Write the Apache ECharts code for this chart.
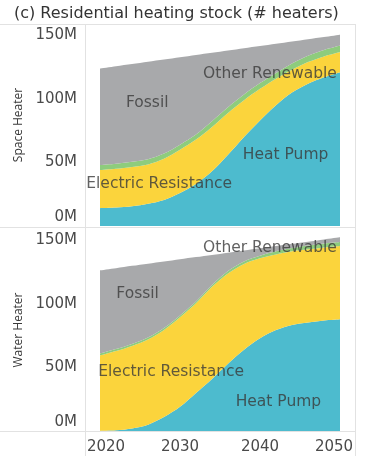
<!DOCTYPE html>
<html>
<head>
<meta charset="utf-8">
<script src="https://cdn.jsdelivr.net/npm/echarts@6/dist/echarts.min.js"></script>
<style>html,body{margin:0;padding:0;background:#fff}#c{width:369px;height:458px}</style>
</head>
<body>
<div id="c"></div>
<script>
const years = ['2020','2022','2024','2026','2028','2030','2032','2034','2036','2038','2040','2042','2044','2046','2048','2050'];
const xTickLabels = ['2020', '2030', '2040', '2050'];
const yTicks = [0, 50, 100, 150];
const panelNames = ['Space Heater', 'Water Heater'];
const seriesNames = ['Heat Pump', 'Electric Resistance', 'Other Renewable', 'Fossil'];

// values in millions of heaters (layer thickness, stacked bottom to top)
const spaceHeatPump = [14, 14.5, 15.5, 17.5, 20.5, 26, 33, 43, 56, 70, 83, 95, 105, 112, 117, 121];
const spaceElectric = [30, 30.5, 31, 31, 32.5, 34, 35, 35, 33, 29, 25, 21, 18, 17, 16.5, 16];
const spaceOther    = [4, 4, 4, 4, 4, 4, 4, 4.5, 4.5, 4.5, 4.5, 4.5, 5, 5, 5, 5];
const spaceFossil   = [76, 76.8, 77, 76.8, 74, 68.8, 62.6, 53.8, 44.6, 36.4, 29.1, 22.9, 17.2, 13, 10.2, 8.5];

const waterHeatPump = [0, 0.5, 2, 5, 11, 19, 30, 41, 53, 64, 73, 79.5, 83.5, 85.5, 87, 88];
const waterElectric = [59.5, 62.5, 65, 67, 68.5, 70.5, 70.5, 72.5, 71, 67.5, 63, 59.5, 58, 57.5, 57.5, 57.7];
const waterOther    = [1.5, 1.5, 1.5, 1.5, 1.5, 1.5, 1.5, 1.5, 2, 2, 2, 2.5, 2.5, 3, 3, 3];
const waterFossil   = [65.5, 63.7, 61.5, 58.2, 52.4, 44.2, 34.9, 23.6, 14.4, 8.6, 5.8, 4.1, 3.3, 3, 3.3, 3.8];

// annotation anchors [year, value]
const spaceLabelAt = [[2043.2, 55.8], [2027.4, 33], [2041.25, 119.4], [2025.9, 96.6]];
const waterLabelAt = [[2042.3, 22.8], [2028.9, 46.3], [2041.25, 143.8], [2024.7, 107.6]];

const colors = ['#4DBBCE', '#FBD43C', '#8ECC7D', '#A8A9AB'];
const FONT = 'DejaVu Sans';
const TXT = '#4a4a4a';
const LINE = '#e2e2e2';

const chart = echarts.init(document.getElementById('c'), null, {renderer: 'canvas'});

function makeY(idx, name) {
  return {
    type: 'value', gridIndex: idx, min: 0, max: 159, interval: 50,
    name: name, nameLocation: 'middle', nameRotate: 90, nameGap: 73,
    nameTextStyle: {fontFamily: 'Open Sans', fontSize: 12, color: '#3a3a3a'},
    axisLine: {show: false}, axisTick: {show: false}, splitLine: {show: false},
    axisLabel: {
      showMaxLabel: false, margin: 23, fontFamily: FONT, fontSize: 15, color: TXT,
      formatter: v => (yTicks.indexOf(v) < 0 ? '' : (v === 0 ? '{z|0M}' : v + 'M')),
      rich: {z: {fontFamily: FONT, fontSize: 15, color: TXT, padding: [0, 0, 17, 0]}}
    }
  };
}
function makeX(idx, showLabels) {
  return {
    type: 'category', gridIndex: idx, data: years, boundaryGap: false,
    axisLine: {show: false}, axisTick: {show: false}, splitLine: {show: false},
    axisLabel: {
      show: showLabels, interval: 0, margin: 9, fontFamily: FONT, fontSize: 15, color: TXT,
      formatter: v => (xTickLabels.indexOf(v) < 0 ? '' : (v === '2020' ? '{a|2020}' : v === '2050' ? '{b|2050}' : v)),
      rich: {
        a: {fontFamily: FONT, fontSize: 15, color: TXT, padding: [0, 0, 0, 12]},
        b: {fontFamily: FONT, fontSize: 15, color: TXT, padding: [0, 12, 0, 0]}
      }
    }
  };
}
function makeLabelX(idx) {
  return {type: 'value', gridIndex: idx, min: 2020, max: 2050, show: false};
}
function makeSeries(idx, layers) {
  return layers.map((vals, i) => ({
    name: seriesNames[i], type: 'line', xAxisIndex: idx, yAxisIndex: idx,
    stack: 'p' + idx, smooth: 0.3, symbol: 'none',
    lineStyle: {width: 0}, areaStyle: {color: colors[i], opacity: 1},
    itemStyle: {color: colors[i]},
    data: vals,
    z: 2
  }));
}
function makeLabels(idx, labelAt) {
  return {
    type: 'scatter', xAxisIndex: idx + 2, yAxisIndex: idx, symbolSize: 0, silent: true, z: 5,
    data: labelAt.map((p, i) => ({value: p, name: seriesNames[i]})),
    label: {show: true, position: 'inside', formatter: p => p.name,
      fontFamily: FONT, fontSize: 15.5, color: '#3a3a3a'}
  };
}

const option = {
  animation: false,
  title: {text: '(c) Residential heating stock (# heaters)', left: 9, top: 1,
    textStyle: {fontFamily: FONT, fontSize: 16, fontWeight: 'normal', color: '#333'}},
  grid: [
    {left: 100, right: 29, top: 24, height: 202},
    {left: 100, right: 29, top: 229, height: 202}
  ],
  xAxis: [makeX(0, false), makeX(1, true), makeLabelX(0), makeLabelX(1)],
  yAxis: [makeY(0, panelNames[0]), makeY(1, panelNames[1])],
  series: [].concat(
    makeSeries(0, [spaceHeatPump, spaceElectric, spaceOther, spaceFossil]),
    makeSeries(1, [waterHeatPump, waterElectric, waterOther, waterFossil]),
    [makeLabels(0, spaceLabelAt), makeLabels(1, waterLabelAt)]
  ),
  graphic: [
    {type: 'line', shape: {x1: 0, y1: 24.5, x2: 356, y2: 24.5}, style: {stroke: LINE, lineWidth: 1}, z: 0},
    {type: 'line', shape: {x1: 0, y1: 227.5, x2: 356, y2: 227.5}, style: {stroke: LINE, lineWidth: 1}, z: 0},
    {type: 'line', shape: {x1: 0, y1: 431.5, x2: 356, y2: 431.5}, style: {stroke: LINE, lineWidth: 1}, z: 0},
    {type: 'line', shape: {x1: 85.5, y1: 24, x2: 85.5, y2: 456}, style: {stroke: LINE, lineWidth: 1}, z: 0},
    {type: 'line', shape: {x1: 355.5, y1: 24, x2: 355.5, y2: 456}, style: {stroke: LINE, lineWidth: 1}, z: 0}
  ]
};
chart.setOption(option);
</script>
</body>
</html>
